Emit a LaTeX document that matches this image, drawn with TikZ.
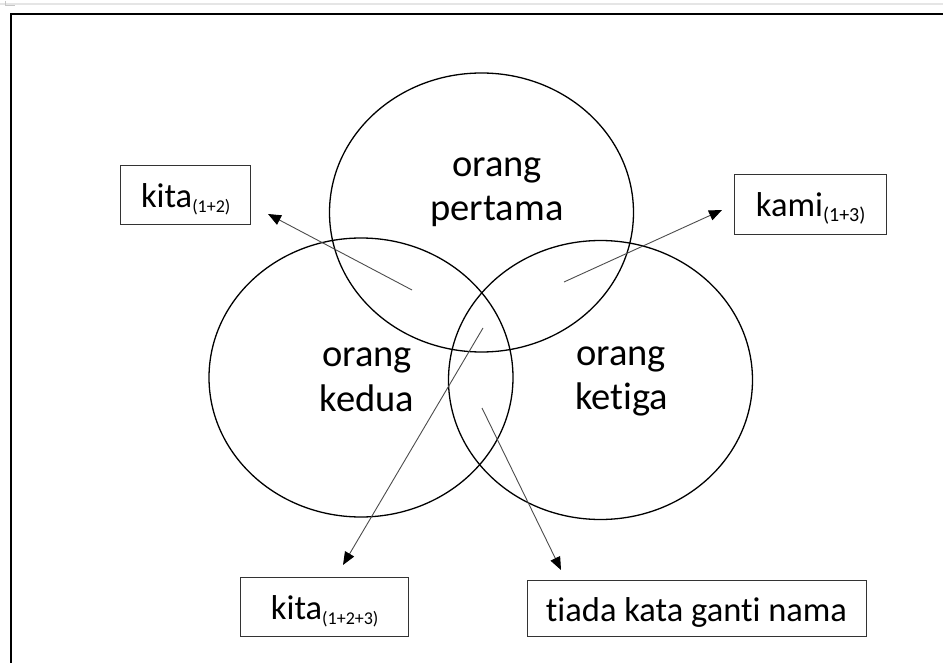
\documentclass[tikz,border=0pt]{standalone}
\usepackage{fontspec}
\setmainfont{Carlito}[Ligatures={NoCommon}]
\usetikzlibrary{shapes.geometric,arrows.meta}
\begin{document}
\begin{tikzpicture}[x=1pt,y=-1pt,
  venn/.style={draw=black,line width=1.3pt,ellipse,minimum width=304pt,minimum height=279pt,inner sep=0pt},
  word/.style={anchor=base,inner sep=0pt,font=\fontsize{38.5}{45}\selectfont},
  lbox/.style={draw=black!80,line width=0.9pt,inner sep=0pt,font=\fontsize{34.5}{40}\selectfont,text height=26pt,text depth=0pt},
  conn/.style={draw=black!70,line width=0.9pt,-{Triangle[length=13pt,width=10.5pt,color=black]}},
  frame/.style={draw=black,line width=1.8pt}]
\useasboundingbox (0,0) rectangle (943,663);
% page chrome and frame
\draw[gray!20,line width=2pt] (0,4) -- (943,4);
\draw[gray!45,line width=0.8pt] (5,1) -- (5,5) -- (15,5);
\draw[frame] (11,670) -- (11,14) -- (950,14);
% circles
\node[venn] (p1) at (481.5,212.5) {};
\node[venn] (p2) at (361,377.5) {};
\node[venn] (p3) at (600.5,380) {};
% circle texts
\node[word] (w1a) at (497,176.5) {orang};
\node[word] (w1b) at (497,221) {pertama};
\node[word] (w2a) at (367,366.5) {orang};
\node[word] (w2b) at (367,411) {kedua};
\node[word] (w3a) at (621,365) {orang};
\node[word] (w3b) at (622,409.5) {ketiga};
% boxes
\node[lbox,minimum width=130pt,minimum height=59pt] (b12) at (185.7,194.5)
  {kita\raisebox{-5pt}[0pt][0pt]{\fontsize{18}{20}\selectfont (1+2)}};
\node[lbox,minimum width=152pt,minimum height=60pt] (b13) at (810.7,204)
  {kami\raisebox{-5pt}[0pt][0pt]{\fontsize{20}{22}\selectfont (1+3)}};
\node[lbox,minimum width=168pt,minimum height=59pt] (b123) at (324.7,606.5)
  {kita\raisebox{-5pt}[0pt][0pt]{\fontsize{18}{20}\selectfont (1+2+3)}};
\node[lbox,minimum width=339pt,minimum height=56pt] (b0) at (696.5,608)
  {tiada kata ganti nama};
% connector ends
\coordinate (s12) at (412,290);  \coordinate (t12) at (268,214);
\coordinate (s13) at (564,282);  \coordinate (t13) at (722,210);
\coordinate (s123) at (483,328); \coordinate (t123) at (343,565);
\coordinate (s0) at (482,408);   \coordinate (t0) at (561,570);
\draw[conn] (s12) -- (t12);
\draw[conn] (s13) -- (t13);
\draw[conn] (s123) -- (t123);
\draw[conn] (s0) -- (t0);
\end{tikzpicture}
\end{document}
